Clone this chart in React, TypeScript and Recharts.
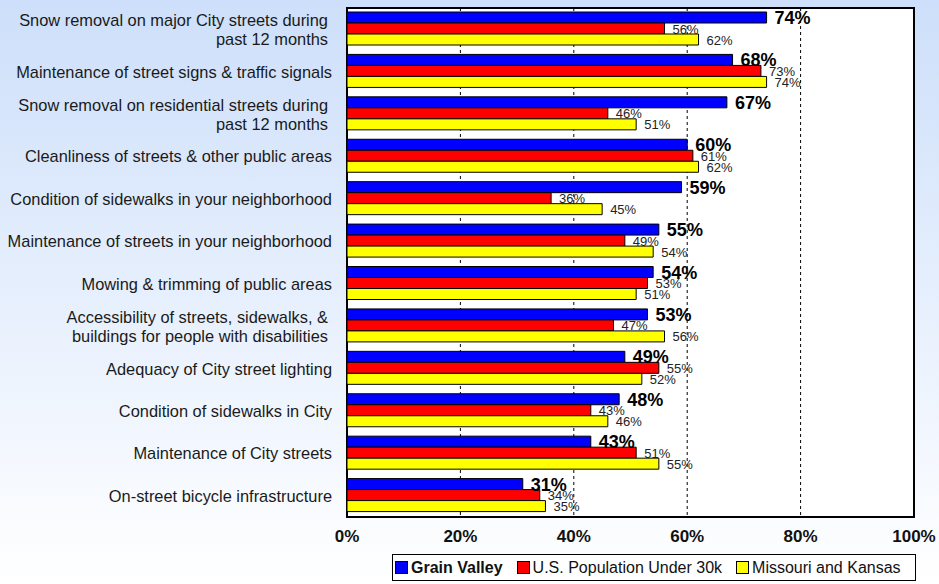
import { Bar, BarChart, CartesianGrid, LabelList, ReferenceArea, XAxis, YAxis } from 'recharts';

const categories = [
  'Snow removal on major City streets during\npast 12 months',
  'Maintenance of street signs & traffic signals',
  'Snow removal on residential streets during\npast 12 months',
  'Cleanliness of streets & other public areas',
  'Condition of sidewalks in your neighborhood',
  'Maintenance of streets in your neighborhood',
  'Mowing & trimming of public areas',
  'Accessibility of streets, sidewalks, &\nbuildings for people with disabilities',
  'Adequacy of City street lighting',
  'Condition of sidewalks in City',
  'Maintenance of City streets',
  'On-street bicycle infrastructure',
];

const grainValley = [74, 68, 67, 60, 59, 55, 54, 53, 49, 48, 43, 31];
const usUnder30k = [56, 73, 46, 61, 36, 49, 53, 47, 55, 43, 51, 34];
const missouriKansas = [62, 74, 51, 62, 45, 54, 51, 56, 52, 46, 55, 35];

const xTicks = [0, 20, 40, 60, 80, 100];

const data = categories.map((name, i) => ({
  name,
  gv: grainValley[i],
  us: usUnder30k[i],
  mk: missouriKansas[i],
}));

const FONT = '"Liberation Sans", Arial, sans-serif';

const CategoryTick = (props: any) => {
  const { x, y, payload } = props;
  const lines = String(payload.value).split('\n');
  const multi = lines.length > 1;
  return (
    <text textAnchor="end" fontFamily={FONT} fontSize={16.4} fill="#1a1a1a">
      {lines.map((l, i) => (
        <tspan key={i} x={multi ? x - 11 : x - 7} y={multi ? y - 9 + i * 19 : y} dominantBaseline="central">
          {l}
        </tspan>
      ))}
    </text>
  );
};

const makeLabel = (bold: boolean) => (props: any) => {
  const { x, y, width, height, value } = props;
  return (
    <text
      x={x + width + 8}
      y={y + height / 2 + 0.5}
      dominantBaseline="central"
      fontFamily={FONT}
      fontSize={bold ? 18 : 13}
      fontWeight={bold ? 'bold' : 'normal'}
      fill={bold ? '#000' : '#222'}
    >
      {value}%
    </text>
  );
};

const legendItems = [
  { label: 'Grain Valley', color: '#0000ff', bold: true },
  { label: 'U.S. Population Under 30k', color: '#ff0000', bold: false },
  { label: 'Missouri and Kansas', color: '#ffff00', bold: false },
];

export default function App() {
  return (
    <div
      style={{
        position: 'absolute',
        left: 0,
        top: 0,
        width: 939,
        height: 584,
        background: 'linear-gradient(to bottom, #cddffa 0%, #e6effd 50%, #ffffff 100%)',
        fontFamily: FONT,
      }}
    >
      <BarChart
        width={939}
        height={584}
        data={data}
        layout="vertical"
        margin={{ top: 8, right: 25, bottom: 37, left: 0 }}
        barCategoryGap={4}
        barGap={0}
      >
        <CartesianGrid horizontal={false} stroke="#000" strokeDasharray="3 3" fill="#fff" fillOpacity={1} />
        <XAxis
          type="number"
          domain={[0, 100]}
          ticks={xTicks}
          tickFormatter={(v) => `${v}%`}
          axisLine={false}
          tickLine={false}
          height={30}
          tick={{ fontFamily: FONT, fontSize: 17, fontWeight: 'bold', fill: '#111' }}
          tickMargin={7}
        />
        <YAxis
          type="category"
          dataKey="name"
          width={347}
          axisLine={false}
          tickLine={false}
          tick={<CategoryTick />}
          interval={0}
        />
        <Bar dataKey="gv" fill="#0000ff" stroke="#000" strokeWidth={1} isAnimationActive={false}>
          <LabelList dataKey="gv" content={makeLabel(true)} />
        </Bar>
        <Bar dataKey="us" fill="#ff0000" stroke="#000" strokeWidth={1} isAnimationActive={false}>
          <LabelList dataKey="us" content={makeLabel(false)} />
        </Bar>
        <Bar dataKey="mk" fill="#ffff00" stroke="#000" strokeWidth={1} isAnimationActive={false}>
          <LabelList dataKey="mk" content={makeLabel(false)} />
        </Bar>
        <ReferenceArea x1={0} x2={100} fill="none" stroke="#000" strokeWidth={2} ifOverflow="visible" />
      </BarChart>
      <div
        style={{
          position: 'absolute',
          left: 392,
          top: 554,
          width: 520,
          height: 25,
          border: '1px solid #000',
          background: '#fff',
          display: 'flex',
          alignItems: 'center',
          fontSize: 16,
          color: '#111',
          paddingLeft: 2,
          boxSizing: 'content-box',
          whiteSpace: 'nowrap',
        }}
      >
        {legendItems.map((it) => (
          <span key={it.label} style={{ display: 'flex', alignItems: 'center', marginRight: 14, fontWeight: it.bold ? 'bold' : 'normal' }}>
            <span style={{ width: 11, height: 11, background: it.color, border: '1px solid #000', marginRight: 3 }} />
            {it.label}
          </span>
        ))}
      </div>
    </div>
  );
}
